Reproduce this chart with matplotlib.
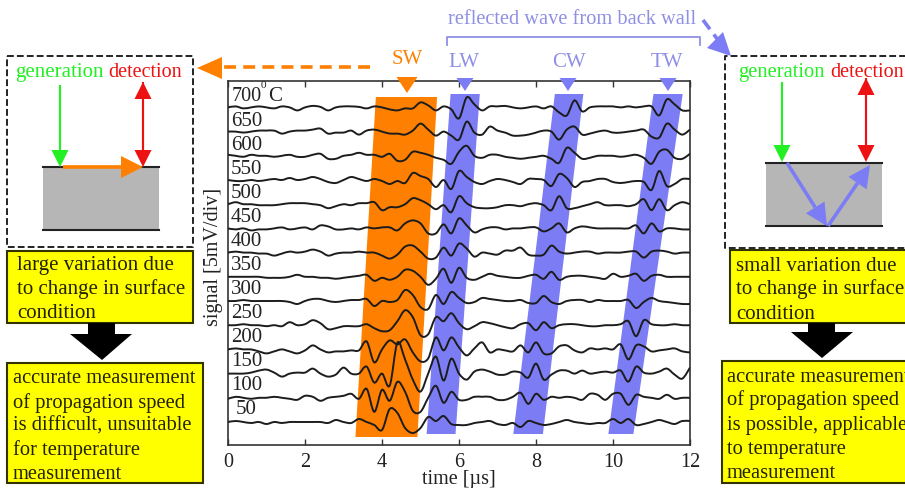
import matplotlib
matplotlib.use("Agg")
import matplotlib.pyplot as plt
import numpy as np
from matplotlib.patches import Polygon, Rectangle, PathPatch
from matplotlib.path import Path

plt.rcParams['font.family'] = ['Liberation Serif', 'DejaVu Serif']

# ---------- data: sampled every 0.2 us from 0 to 12 us, in px-scale signal units (24.2 = 1 div = 5 mV)
time_us = [round(0.2 * i, 1) for i in range(61)]
temps = [50, 100, 150, 200, 250, 300, 350, 400, 450, 500, 550, 600, 650, 700]
sig_700 = [0,1,-1,0,1,0,-1,1,0,-3, 0,1.5,0.5,-3,0,1,1,0.5,-1,1, 0,-2,-3,-1,-1,5,2,-3,1,-2,
           -11,10,3,-3,1,1,1.5,0,-1,0, 1,-1,1,-5,-8,7,-4,0,1,1, 1,0,1,0,1,1,-8,8,3,-3,-3]
sig_650 = [0,0,-1,0,1,1,1,-2,0,1, 1,2,3,-2,-1,-1,1,-3,1,2, 0,-2,-2,-3,1,8,2,-4,0,-4,
           -8,10,-1,-3,5,1,-1,-4,-4,-3, -1,1,0,-8,2,5,-3,-2,0,1, -1,-1,0,1,2,-5,-6,8,2,-3,2]
sig_600 = [1,0,-1,1,0,0,-1,0,1,-1, -1,1,2,-3,-3,0,1,3,1,1, -1,2,-5,-4,4,3,1,-2,-4,-8,
           4,10,0,-2,1,1,-1,-2,-3,-2, -1,0,-3,-7,8,3,-3,-2,0,0, 0,-1,0,1,-2,-8,4,6,-2,-3,2]
sig_550 = [0,-1,-1,0,-1,0,1,0,2,0, 1,3,1,-2,-3,0,3,1,-1,1, -1,-4,-1,-3,7,4,1,-7,0,-9,
           9,3,-2,-4,-1,1,0,-2,-4,1, 1,0,-6,6,2,-7,-2,-1,1,1, -2,-3,-2,-1,-2,-10,9,-6,-4,1,1]
sig_500 = [0,2,0,0,-1,-1,-1,0,1,1, 1,0,-1,-4,-2,0,-1,1,1,2, -6,-3,-3,0,6,4,0,-5,-1,-8,
           8,1,-3,-4,-4,-3,-1,-1,-2,0, 1,-1,-6,8,-4,-4,-2,0,2,-1, -1,-1,-2,0,5,-6,5,-6,-1,2,0]
sig_450 = [0,-1,0,-2,-1,-1,0,1,-1,0, 1,-1,3,2,-1,-1,0,-1,1,0, 1,1,-2,5,8,5,-5,-5,4,-5,
           10,3,-4,-1,1,1,-1,0,0,1, 1,-3,0,5,-4,0,2,1,0,0, 0,0,0,3,-5,5,-3,0,0,-1,-1]
sig_400 = [0,1,0,0,-1,-1,-3,-1,1,0, 1,3,1,-3,-1,0,0,1,0,0, -3,-6,-2,6,7,1,-6,-5,5,-3,
           9,4,-4,0,-1,-2,2,2,5,-2, -3,-2,7,1,-1,0,1,1,-1,0, 0,0,1,1,-5,1,2,1,-1,0,0]
sig_350 = [0,0,0,0,0,-1,-1,-1,0,2, 0,0,-1,-1,-2,-1,0,1,2,-4, -1,-3,0,7,6,0,-8,-2,8,-6,
           9,-1,-3,0,3,1,0,-1,-1,1, 2,-2,5,-3,0,1,1,0,-1,-2, 3,0,1,3,-4,1,2,0,0,0,0]
sig_300 = [0,0,1,0,0,0,0,0,-1,-3, 0,2,2,0,-1,0,1,1,2,-5, 0,-1,1,11,6,-6,-8,6,-3,9,
           3,-2,-1,3,2,1,0,0,1,-2, -2,5,-1,-3,0,1,1,-1,1,0, 0,0,1,-7,-1,3,0,-1,-2,-3,-3]
sig_250 = [0,0,1,0,0,-1,0,-1,3,0, 1,5,2,-4,-3,-1,-1,-1,1,-3, -6,-5,4,15,8,-10,-9,8,4,12,
           2,-4,-1,3,2,0,-2,-3,1,2, -5,3,-3,0,1,1,0,-1,-1,0, 0,1,4,-11,5,1,0,0,1,0,0]
sig_200 = [0,1,0,0,-2,-4,-2,0,-2,-4, -1,4,0,-3,-2,-2,-1,-1,8,-13, 0,9,5,10,-3,-12,-9,12,-1,12,
           2,-6,1,7,-3,0,-1,-2,4,-3, 7,-4,-4,3,4,-1,-3,1,0,1, 0,5,-10,4,3,-2,-1,0,1,-2,-3]
sig_150 = [0,0,0,1,3,4,1,-3,0,1, 1,5,0,-3,-1,6,0,0,7,-9, 0,-12,31,14,-6,-18,0,17,-7,15,
           0,-6,2,4,2,-1,-1,2,1,-4, 10,-6,-1,3,3,0,3,0,1,2, 1,3,-8,7,1,0,2,5,-1,-5,6]
sig_100 = [-1,1,0,-1,0,0,1,0,-1,-2, 2,1,-3,0,1,2,4,-1,9,-14, 8,-3,16,6,-13,-14,0,12,-5,6,
           -2,-2,1,1,1,-2,-2,1,5,-6, 4,-2,1,0,1,0,-2,4,3,-2, 4,4,-7,3,1,0,-1,3,-1,0,0]
sig_50  = [0,1,0,-1,0,-2,0,-1,0,0, 0,0,0,-1,2,0,-1,3,0,-3, -8,13,9,-6,-11,-6,5,1,6,-2,
           -3,-3,-1,0,1,-2,-3,-1,-5,1, -1,-3,-2,0,2,0,-1,-2,-1,-1, 3,-1,3,-3,-2,0,2,0,-2,1,1]
signals = [sig_50, sig_100, sig_150, sig_200, sig_250, sig_300, sig_350,
           sig_400, sig_450, sig_500, sig_550, sig_600, sig_650, sig_700]
trace_step = 24.2
x_ticks = [0, 2, 4, 6, 8, 10, 12]

# wave bands: arrival time (us) at bottom/top, left and right edges
sw_band = [3.31, 4.92, 5.43, 3.84]
lw_band = [5.16, 5.91, 6.54, 5.78]
cw_band = [7.41, 8.18, 9.23, 8.49]
tw_band = [9.88, 10.53, 11.81, 11.05]

ORANGE = '#ff8000'
BLUE = '#7c7cf4'
BLUETXT = '#8f8fe6'
GREEN = '#22f022'
RED = '#ee1111'
TXT = '#222222'

fig = plt.figure(figsize=(9.05, 4.88), dpi=100)
W, H = 905.0, 488.0
ax = fig.add_axes([228 / W, 1 - 445 / H, (690 - 228) / W, (445 - 81) / H])
ax.set_xlim(0, 12)
ax.set_ylim(-23, 341)

for band, col, ybot, ytop in [(sw_band, ORANGE, -15, 325), (lw_band, BLUE, -12, 328),
                              (cw_band, BLUE, -12, 328), (tw_band, BLUE, -12, 328)]:
    ax.add_patch(Polygon([(band[0], ybot), (band[1], ybot), (band[2], ytop), (band[3], ytop)],
                         closed=True, fc=col, ec='none', zorder=1))


def smooth_path(xs, ys):
    """Curve that runs through every read point (Catmull-Rom as Bezier segments)."""
    p = np.column_stack([xs, ys]).astype(float)
    verts = [p[0]]
    codes = [Path.MOVETO]
    for k in range(len(p) - 1):
        m0 = (p[k + 1] - p[max(k - 1, 0)]) / 6.0
        m1 = (p[min(k + 2, len(p) - 1)] - p[k]) / 6.0
        verts += [p[k] + m0, p[k + 1] - m1, p[k + 1]]
        codes += [Path.CURVE4] * 3
    return Path(verts, codes)


for i, (temp, sig) in enumerate(zip(temps, signals)):
    assert len(sig) == len(time_us), temp
    ax.add_patch(PathPatch(smooth_path(time_us, np.array(sig, float) + i * trace_step),
                           fc='none', ec='#1c1c1c', lw=1.4, joinstyle='round', zorder=3))
    if temp != 700:
        ax.text(0.2 if temp == 50 else 0.08, i * 23.92 + 13, str(temp), fontsize=15, color=TXT,
                ha='left', va='center', zorder=4)

ax.set_xticks(x_ticks)
ax.set_xticklabels([str(v) for v in x_ticks], fontsize=14.5, color=TXT)
ax.set_yticks([])
ax.tick_params(axis='x', direction='in', top=True, length=4, width=1.0, color='#333333', pad=6)
for s in ax.spines.values():
    s.set_linewidth(1.2)
    s.set_color('#333333')
ax.set_xlabel('time [\u00b5s]', fontsize=14.5, color=TXT, labelpad=-1.5)

# overlay in pixel coordinates for the annotations
ov = fig.add_axes([0, 0, 1, 1], zorder=5)
ov.set_xlim(0, W)
ov.set_ylim(H, 0)
ov.axis('off')
ov.patch.set_alpha(0)


def txt(x, y, s, col=TXT, fs=15, ha='left', **kw):
    ov.text(x, y + 1.5, s, color=col, fontsize=fs, ha=ha, va='center', **kw)


def arrow(x0, y0, x1, y1, col, lw=2.0, hl=17, hw=17, z=6, both=False):
    d = np.array([x1 - x0, y1 - y0], float)
    L = np.hypot(*d)
    u = d / L
    n = np.array([-u[1], u[0]])
    tip = np.array([x1, y1], float)
    base = tip - u * hl
    ov.plot([x0, base[0]], [y0, base[1]], color=col, lw=lw, solid_capstyle='butt', zorder=z)
    ov.add_patch(Polygon([tip, base + n * hw / 2, base - n * hw / 2], closed=True, fc=col, ec='none', zorder=z))
    if both:
        tip2 = np.array([x0, y0], float)
        base2 = tip2 + u * hl
        ov.plot([base2[0], base[0]], [base2[1], base[1]], color=col, lw=lw, zorder=z)
        ov.add_patch(Polygon([tip2, base2 + n * hw / 2, base2 - n * hw / 2], closed=True, fc=col, ec='none', zorder=z))


def block_arrow(x0, x1, hx0, hx1, ytop, yneck, tipx, tipy):
    ov.add_patch(Polygon([(x0, ytop), (x1, ytop), (x1, yneck), (hx1, yneck), (tipx, tipy),
                          (hx0, yneck), (x0, yneck)], closed=True, fc='black', ec='none', zorder=6))


def ybox(x0, y0, x1, y1, lines, tx, ys, fs=14.8):
    ov.add_patch(Rectangle((x0, y0), x1 - x0, y1 - y0, fc='#ffff00', ec='#333300', lw=1.5, zorder=2))
    for s, y in zip(lines, ys):
        txt(tx, y, s, col='#222200', fs=fs, zorder=3)


def dashed(xs, ys):
    ov.plot(xs, ys, color='#222222', lw=1.4, ls=(0, (3.5, 1.6)), zorder=2, clip_on=False)


# 700 C label
txt(232, 95, '700', fs=14.5)
txt(261, 84, '0', fs=8)
txt(268, 95, 'C', fs=15)

# y label
fig.text(213 / W, 1 - 257 / H, 'signal [5mV/div]', rotation=90, fontsize=14.5, color=TXT, ha='center', va='center')

# wave labels and triangles
for lab, xt, xm, col, yt, w, y0, y1 in [('SW', 407, 407, ORANGE, 58, 21, 77, 93),
                                        ('LW', 464, 465, BLUETXT, 61, 17, 78, 91),
                                        ('CW', 569, 568, BLUETXT, 61, 17, 78, 91),
                                        ('TW', 667, 668, BLUETXT, 61, 17, 78, 91)]:
    txt(xt, yt, lab, col=col, fs=15, ha='center')
    ov.add_patch(Polygon([(xm - w / 2, y0), (xm + w / 2, y0), (xm, y1)], closed=True,
                         fc=ORANGE if lab == 'SW' else BLUE, ec='none', zorder=7))

# bracket + text
ov.plot([447, 447, 700, 700], [45, 37, 37, 45], color=BLUETXT, lw=1.3, zorder=6)
txt(448, 18, 'reflected wave from back wall', col=BLUETXT, fs=14.7)

# dashed arrows on top
ov.plot([370, 222], [67, 67], color=ORANGE, lw=2.6, ls=(0, (3.3, 2.0)), zorder=6)
ov.add_patch(Polygon([(197, 68), (222, 57), (222, 79)], closed=True, fc=ORANGE, ec='none', zorder=6))
ov.plot([703, 718], [20, 40], color=BLUE, lw=2.6, ls=(0, (3.2, 1.8)), zorder=6)
ov.add_patch(Polygon([(731, 56), (723, 32), (707, 48)], closed=True, fc=BLUE, ec='none', zorder=6))

# left schematic
dashed([7, 193, 193, 7, 7], [56, 56, 247, 247, 56])
txt(15, 71, 'generation', col=GREEN, fs=15)
txt(108, 71, 'detection', col=RED, fs=14.5)
ov.add_patch(Rectangle((43, 167), 116, 63, fc='#b6b6b6', ec='none', zorder=3))
ov.plot([43, 159], [167, 167], color='#222222', lw=1.5, zorder=4)
ov.plot([43, 159], [230, 230], color='#222222', lw=1.5, zorder=4)
arrow(60, 85, 60, 167, GREEN, lw=1.5)
arrow(143, 82, 143, 167, RED, lw=1.5, both=True)
arrow(63, 167, 143, 167, ORANGE, lw=2.6, hl=22, hw=22, z=5)

ybox(7, 251, 193, 323, ['large variation due', 'to change in surface', 'condition'], 17, [264, 288, 312], fs=15)
block_arrow(88, 115, 70, 132, 323, 334, 102, 360)
ybox(7, 363, 203, 483,
     ['accurate measurement', 'of propagation speed', 'is difficult, unsuitable', 'for temperature', 'measurement'],
     13, [377, 402, 425, 449, 473])

# right schematic
dashed([910, 725, 725, 910], [56, 56, 248, 248])
txt(738, 71, 'generation', col=GREEN, fs=14.8)
txt(830, 71, 'detection', col=RED, fs=14.5)
ov.add_patch(Rectangle((766, 163), 116, 63, fc='#b6b6b6', ec='none', zorder=3))
ov.plot([766, 882], [163, 163], color='#222222', lw=1.5, zorder=4)
ov.plot([766, 882], [226, 226], color='#222222', lw=1.5, zorder=4)
arrow(782, 82, 782, 162, GREEN, lw=1.5)
arrow(866, 78, 866, 162, RED, lw=1.5, both=True)
arrow(787, 163, 827, 226, BLUE, lw=2.6, hl=22, hw=22, z=5)
arrow(828, 226, 870, 165, BLUE, lw=2.6, hl=22, hw=22, z=5)

ybox(730, 250, 915, 323, ['small variation due', 'to change in surface', 'condition'], 736, [265, 288, 313], fs=15)
block_arrow(808, 835, 791, 853, 323, 332, 822, 358)
ybox(722, 361, 915, 483,
     ['accurate measurement', 'of propagation speed', 'is possible, applicable', 'to temperature', 'measurement'],
     727, [376, 399, 424, 448, 472])

fig.savefig('out.png', dpi=100)
